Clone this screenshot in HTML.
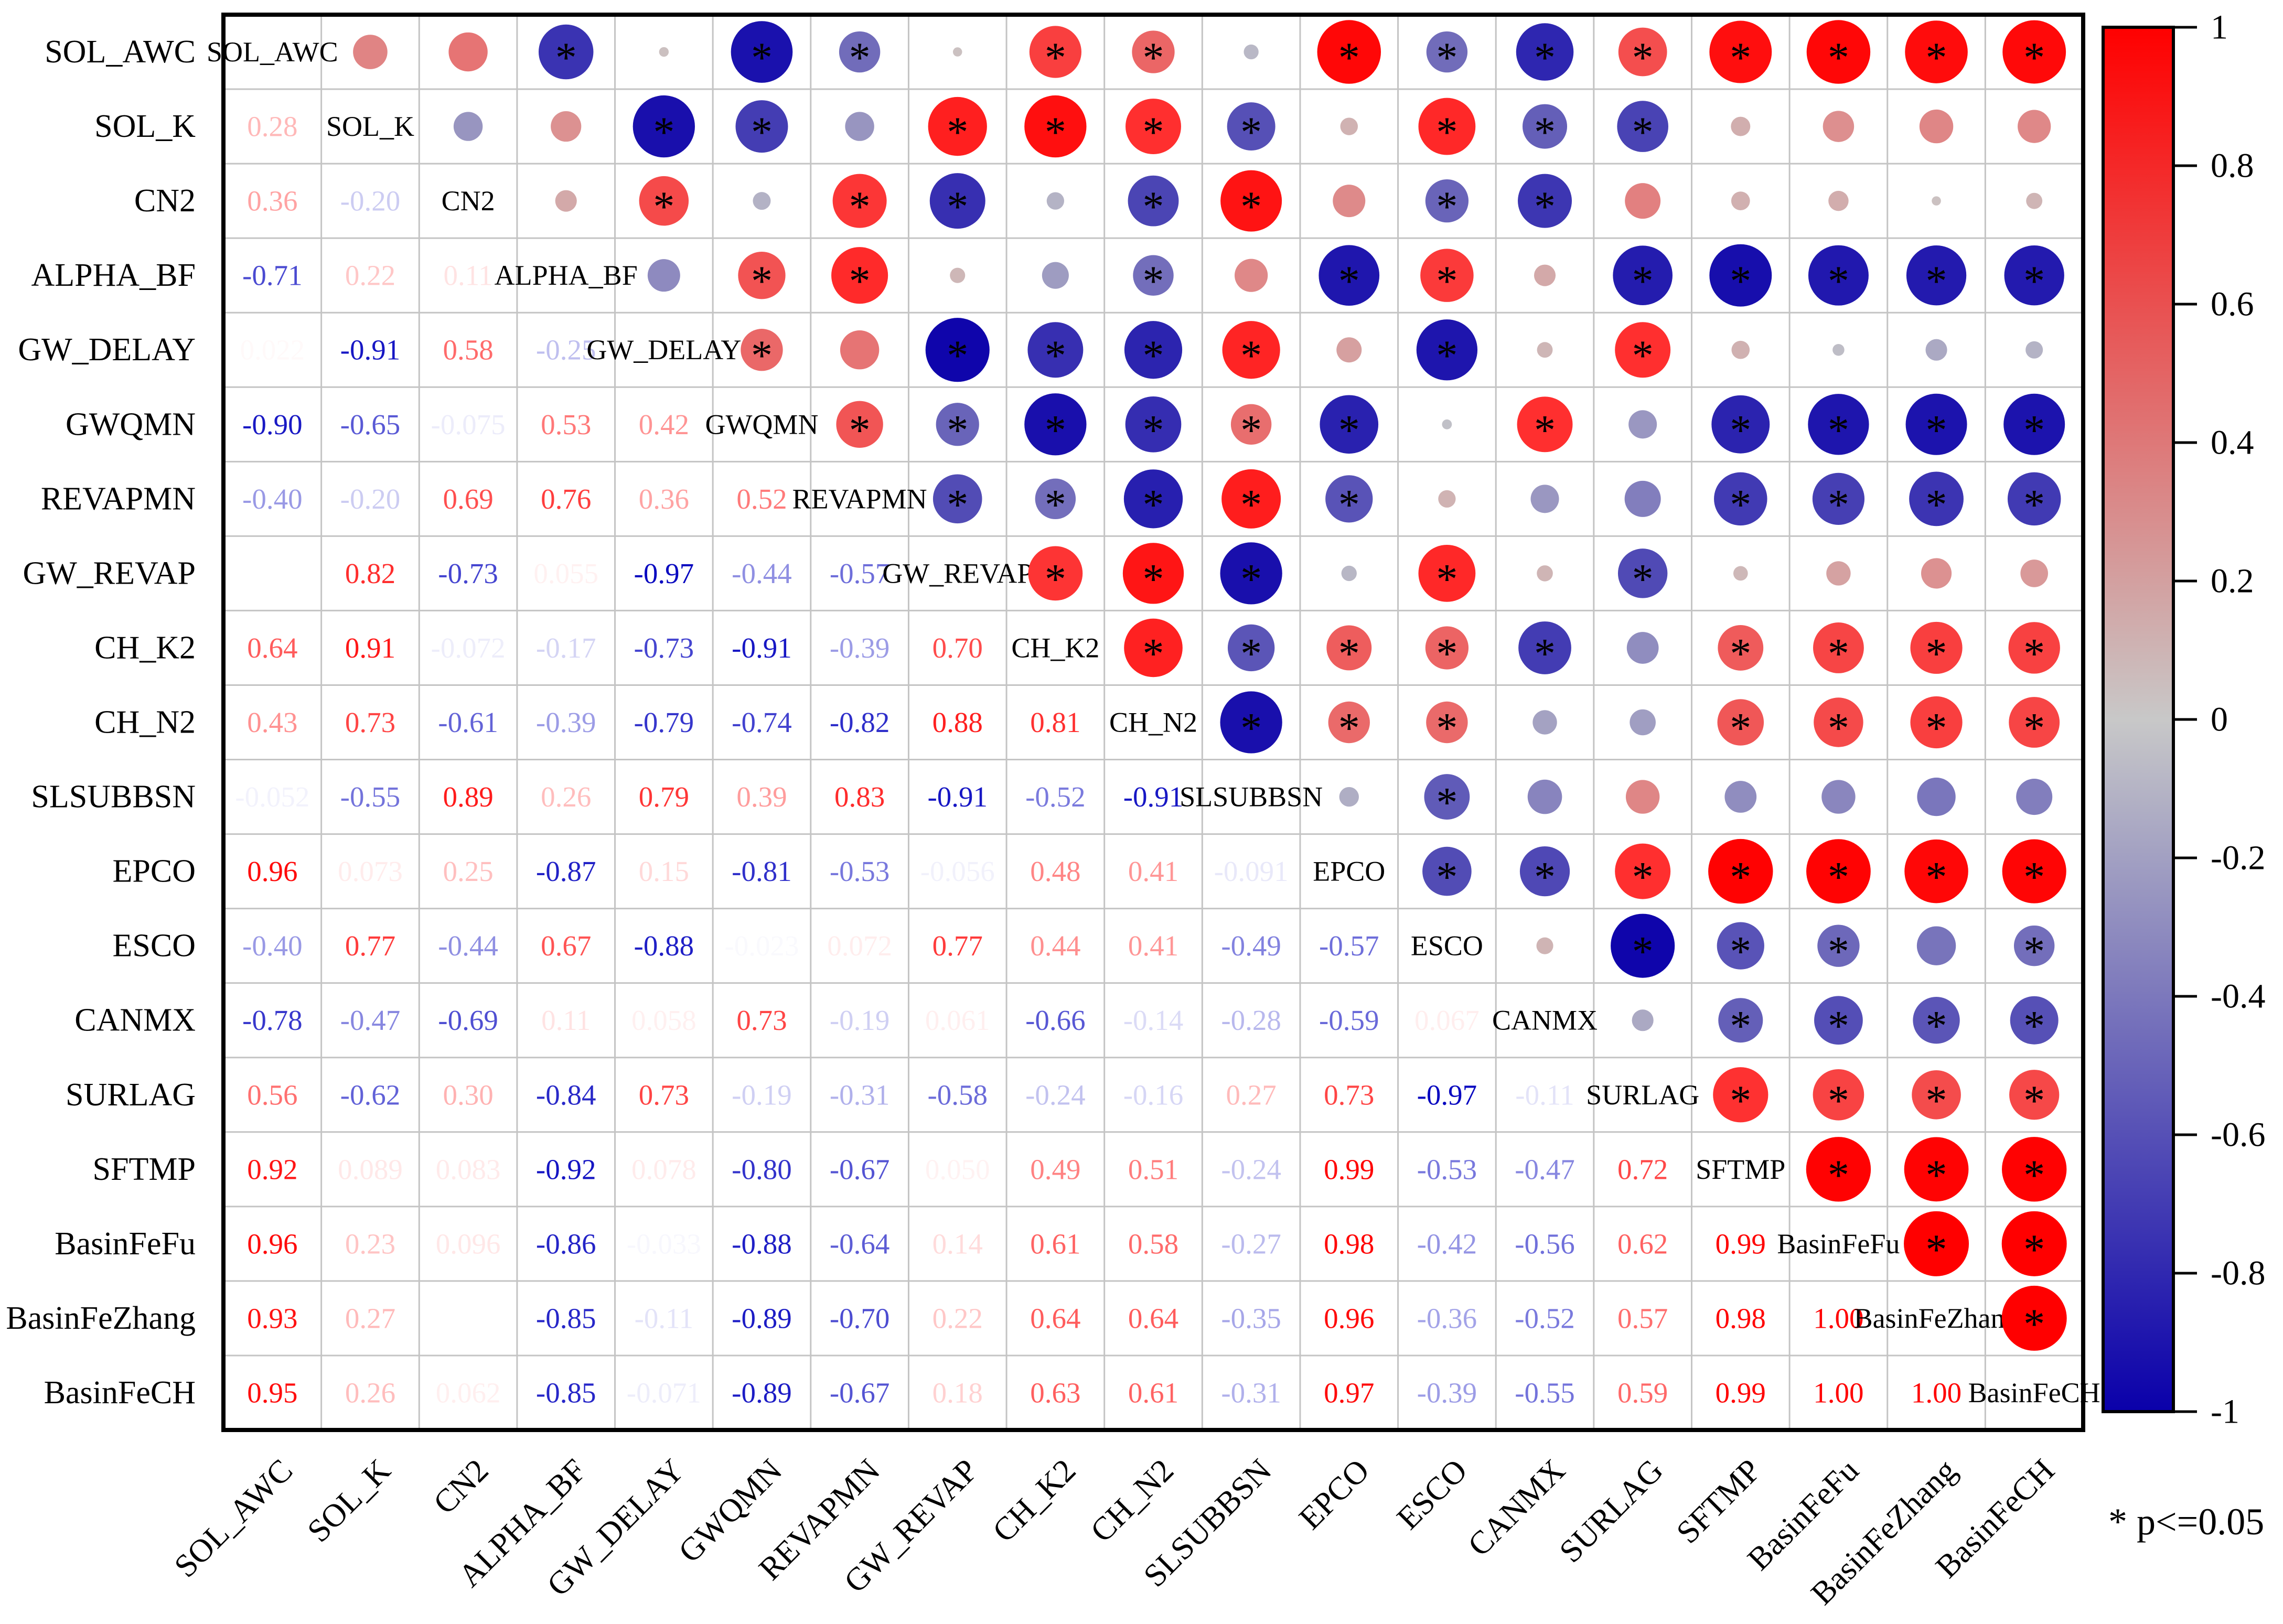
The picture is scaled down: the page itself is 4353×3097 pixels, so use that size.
<!DOCTYPE html>
<html><head><meta charset="utf-8">
<style>html,body{margin:0;padding:0;background:#fff;}svg{display:block;}</style>
</head><body>
<svg id="chart" width="4353" height="3097" viewBox="0 0 4353 3097" xmlns="http://www.w3.org/2000/svg" font-family="'Liberation Serif', serif">
<defs>
<linearGradient id="cbar" x1="0" y1="0" x2="0" y2="1">
<stop offset="0" stop-color="rgb(255,0,0)"/>
<stop offset="0.5" stop-color="rgb(200,200,200)"/>
<stop offset="1" stop-color="rgb(10,0,170)"/>
</linearGradient>
</defs>
<g id="grid"></g>
<g id="cells"></g>
<rect x="426" y="28" width="3546" height="2699" fill="none" stroke="#000" stroke-width="8"/>
<g id="rowlabels"></g>
<g id="collabels"></g>
<g id="colorbar">
<rect x="4010" y="52" width="134" height="2640" fill="url(#cbar)" stroke="#000" stroke-width="6"/>
</g>
<text x="4020" y="2926" font-size="72" fill="#000">* p&lt;=0.05</text>
</svg>
<script>
const names = ["SOL_AWC","SOL_K","CN2","ALPHA_BF","GW_DELAY","GWQMN","REVAPMN","GW_REVAP","CH_K2","CH_N2","SLSUBBSN","EPCO","ESCO","CANMX","SURLAG","SFTMP","BasinFeFu","BasinFeZhang","BasinFeCH"];
// lower triangle values, row i has i entries (columns 0..i-1); null = not printed
const lower = [
 [],
 [0.28],
 [0.36,-0.20],
 [-0.71,0.22,0.11],
 [0.022,-0.91,0.58,-0.25],
 [-0.90,-0.65,-0.075,0.53,0.42],
 [-0.40,-0.20,0.69,0.76,0.36,0.52],
 [null,0.82,-0.73,0.055,-0.97,-0.44,-0.57],
 [0.64,0.91,-0.072,-0.17,-0.73,-0.91,-0.39,0.70],
 [0.43,0.73,-0.61,-0.39,-0.79,-0.74,-0.82,0.88,0.81],
 [-0.052,-0.55,0.89,0.26,0.79,0.39,0.83,-0.91,-0.52,-0.91],
 [0.96,0.073,0.25,-0.87,0.15,-0.81,-0.53,-0.056,0.48,0.41,-0.091],
 [-0.40,0.77,-0.44,0.67,-0.88,-0.023,0.072,0.77,0.44,0.41,-0.49,-0.57],
 [-0.78,-0.47,-0.69,0.11,0.058,0.73,-0.19,0.061,-0.66,-0.14,-0.28,-0.59,0.067],
 [0.56,-0.62,0.30,-0.84,0.73,-0.19,-0.31,-0.58,-0.24,-0.16,0.27,0.73,-0.97,-0.11],
 [0.92,0.089,0.083,-0.92,0.078,-0.80,-0.67,0.050,0.49,0.51,-0.24,0.99,-0.53,-0.47,0.72],
 [0.96,0.23,0.096,-0.86,-0.033,-0.88,-0.64,0.14,0.61,0.58,-0.27,0.98,-0.42,-0.56,0.62,0.99],
 [0.93,0.27,null,-0.85,-0.11,-0.89,-0.70,0.22,0.64,0.64,-0.35,0.96,-0.36,-0.52,0.57,0.98,1.00],
 [0.95,0.26,0.062,-0.85,-0.071,-0.89,-0.67,0.18,0.63,0.61,-0.31,0.97,-0.39,-0.55,0.59,0.99,1.00,1.00]
];
const sigThreshold = 0.385;
const cbTicks = [1,0.8,0.6,0.4,0.2,0,-0.2,-0.4,-0.6,-0.8,-1];

const NS = "http://www.w3.org/2000/svg";
const X0 = 426, Y0 = 28, W = 3546, H = 2699, n = names.length;
const cw = W / n, ch = H / n;
const cx = j => X0 + cw * (j + 0.5);
const cy = i => Y0 + ch * (i + 0.5);
const RMAX = 62;
function mk(tag, attrs, parent) {
  const e = document.createElementNS(NS, tag);
  for (const k in attrs) e.setAttribute(k, attrs[k]);
  parent.appendChild(e);
  return e;
}
function circColor(v) {
  const a = Math.min(1, Math.abs(v));
  const t = Math.pow(a, 0.85);
  let r, g, b;
  if (v >= 0) { r = 200 + 55 * Math.min(1, t * 1.3); g = 200 - 200 * t; b = 200 - 200 * t; }
  else { r = 200 - 190 * t; g = 200 - 200 * t; b = 200 - 30 * t; }
  return `rgb(${Math.round(r)},${Math.round(g)},${Math.round(b)})`;
}
function textColor(v) {
  const a = Math.min(1, Math.abs(v));
  return v >= 0 ? `rgba(255,0,0,${a})` : `rgba(0,0,190,${a})`;
}
function fmt(v) {
  const a = Math.abs(v);
  let s = a >= 0.1 || a === 0 ? v.toFixed(2) : v.toFixed(3);
  if (s === "-0.00") s = "0.00";
  return s;
}
function val(i, j) { return i > j ? lower[i][j] : lower[j][i]; }

const grid = document.getElementById("grid");
for (let k = 1; k < n; k++) {
  const gl = mk("line", {x1: X0 + cw * k, y1: Y0, x2: X0 + cw * k, y2: Y0 + H, stroke: "#c4c4c4", "stroke-width": 3}, grid);
  
  
  const gh = mk("line", {x1: X0, y1: Y0 + ch * k, x2: X0 + W, y2: Y0 + ch * k, stroke: "#c4c4c4", "stroke-width": 3}, grid);
  
  
}

const cells = document.getElementById("cells");
for (let i = 0; i < n; i++) {
  for (let j = 0; j < n; j++) {
    if (i === j) {
      const t = mk("text", {x: cx(j), y: cy(i), "text-anchor": "middle", "dominant-baseline": "central", "font-size": 54, fill: "#000"}, cells);
      
      
      t.textContent = names[i];
      continue;
    }
    const v = val(i, j);
    if (i > j) {
      if (v === null) continue;
      const t = mk("text", {x: cx(j), y: cy(i), "text-anchor": "middle", "dominant-baseline": "central", "font-size": 55, fill: textColor(v)}, cells);
      
      
      t.textContent = fmt(v);
    } else {
      const vv = v === null ? 0.02 : v;
      const r = RMAX * Math.sqrt(Math.min(1, Math.abs(vv)));
      const c = mk("circle", {cx: cx(j), cy: cy(i), r: r, fill: circColor(vv)}, cells);
      
      
      if (Math.abs(vv) >= sigThreshold) {
        const s = mk("text", {x: cx(j), y: cy(i) + 38, "text-anchor": "middle", "font-size": 82, fill: "#000"}, cells);
        
        
        s.textContent = "*";
      }
    }
  }
}

const rl = document.getElementById("rowlabels");
const clg = document.getElementById("collabels");
for (let i = 0; i < n; i++) {
  const t = mk("text", {x: 373, y: cy(i), "text-anchor": "end", "dominant-baseline": "central", "font-size": 62, fill: "#000"}, rl);
  
  
  t.textContent = names[i];
  const px = cx(i) + 42, py = 2808;
  const c = mk("text", {x: px, y: py, "text-anchor": "end", "font-size": 62, fill: "#000", transform: `rotate(-45 ${px} ${py})`}, clg);
  
  
  c.textContent = names[i];
}

const cb = document.getElementById("colorbar");
const cbY = v => 52 + (1 - v) / 2 * 2640;
cbTicks.forEach(v => {
  const l = mk("line", {x1: 4144, y1: cbY(v), x2: 4189, y2: cbY(v), stroke: "#000", "stroke-width": 5}, cb);
  
  
  const t = mk("text", {x: 4215, y: cbY(v), "dominant-baseline": "central", "font-size": 66, fill: "#000"}, cb);
  
  
  t.textContent = String(v);
});
</script>
</body></html>
